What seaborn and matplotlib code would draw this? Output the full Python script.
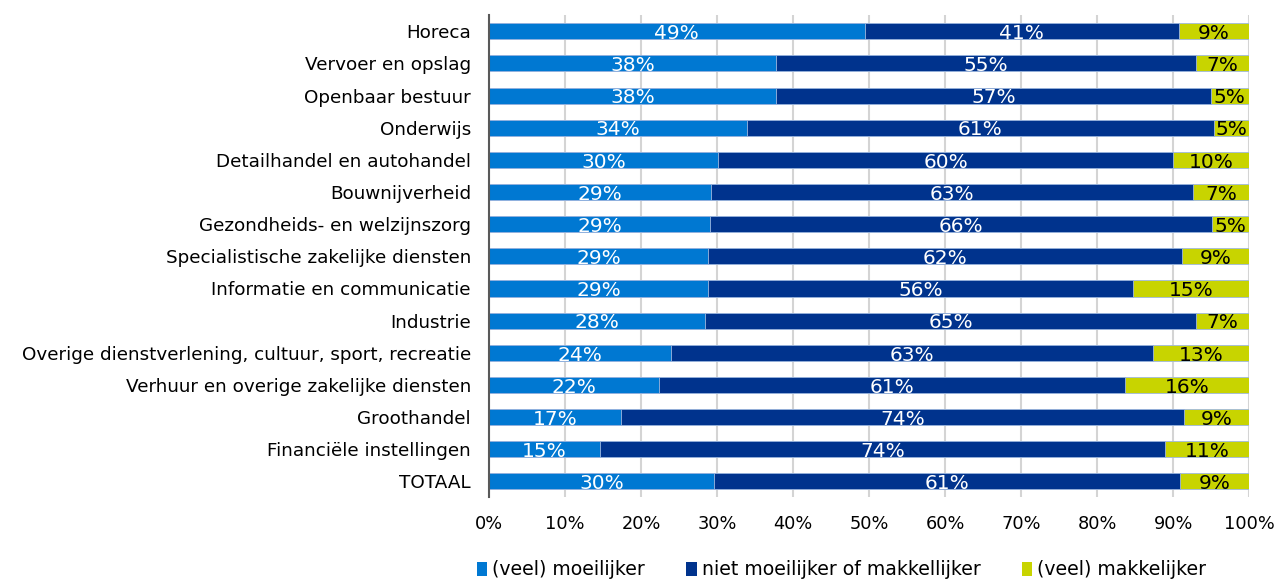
import numpy as np
import pandas as pd
import matplotlib
matplotlib.use("Agg")
import matplotlib.pyplot as plt
import seaborn as sns
from matplotlib.patches import Patch

categories = [
    "Horeca", "Vervoer en opslag", "Openbaar bestuur", "Onderwijs",
    "Detailhandel en autohandel", "Bouwnijverheid",
    "Gezondheids- en welzijnszorg", "Specialistische zakelijke diensten",
    "Informatie en communicatie", "Industrie",
    "Overige dienstverlening, cultuur, sport, recreatie",
    "Verhuur en overige zakelijke diensten", "Groothandel",
    "Financiële instellingen", "TOTAAL",
]
moeilijker = [49.4, 37.8, 37.8, 33.9, 30.1, 29.2, 29.1, 28.8, 28.8, 28.4, 23.9, 22.4, 17.4, 14.6, 29.6]
niet = [41.3, 55.2, 57.1, 61.4, 59.9, 63.4, 66.0, 62.4, 55.9, 64.6, 63.4, 61.2, 74.0, 74.3, 61.3]
makkelijker = [9.3, 7.0, 5.1, 4.7, 10.0, 7.4, 4.9, 8.8, 15.3, 7.0, 12.7, 16.4, 8.6, 11.1, 9.1]
series_names = ["(veel) moeilijker", "niet moeilijker of makkellijker", "(veel) makkelijker"]
colors = ["#0078D2", "#00338D", "#C8D400"]
xticks = [0, 10, 20, 30, 40, 50, 60, 70, 80, 90, 100]

sns.set_theme(style="white")
plt.rcParams["font.family"] = ["DejaVu Sans"]
plt.rcParams["text.color"] = "black"

df = pd.DataFrame({"cat": categories, "m": moeilijker, "n": niet, "k": makkelijker})
df["c1"] = df["m"]
df["c2"] = df["m"] + df["n"]
df["c3"] = df["m"] + df["n"] + df["k"]

fig = plt.figure(figsize=(12.77, 5.79), dpi=100)
ax = fig.add_axes([0.3829, 0.1409, 0.9783 - 0.3829, 0.9737 - 0.1409])

for col, c in zip(["c3", "c2", "c1"], colors[::-1]):
    sns.barplot(data=df, x=col, y="cat", color=c, width=0.5, orient="h",
                saturation=1, ax=ax, edgecolor="#9fb8e0", linewidth=0.6)

for i, row in df.iterrows():
    starts = [0, row["c1"], row["c2"]]
    vals = [row["m"], row["n"], row["k"]]
    tcols = ["white", "white", "black"]
    for s, v, tc in zip(starts, vals, tcols):
        ax.text(s + v / 2, i + 0.07, f"{v:.0f}%", ha="center", va="center",
                color=tc, fontsize=14.5)

ax.set_xlim(0, 100)
ax.set_ylim(14.5, -0.5)
ax.set_xticks(xticks)
ax.set_xticklabels([f"{t}%" for t in xticks])
ax.set_xlabel("")
ax.set_ylabel("")
ax.xaxis.grid(True, color="#D4D4D4", linewidth=1.5)
ax.yaxis.grid(False)
ax.set_axisbelow(True)
for s in ["top", "right", "bottom"]:
    ax.spines[s].set_visible(False)
ax.spines["left"].set_color("#595959")
ax.spines["left"].set_linewidth(1.5)
ax.tick_params(axis="x", length=0, pad=13, labelsize=12.8, colors="black")
ax.tick_params(axis="y", length=0, pad=13, labelsize=13.2, colors="black")

handles = [Patch(facecolor=c, edgecolor="none") for c in colors]
leg = fig.legend(handles, series_names, loc="center", bbox_to_anchor=(0.659, 0.016),
                 ncol=3, frameon=False, fontsize=13.6, handlelength=0.55,
                 handleheight=0.75, handletextpad=0.25, columnspacing=2.2)
for t in leg.get_texts():
    t.set_color("black")

fig.savefig("out.png", dpi=100)
